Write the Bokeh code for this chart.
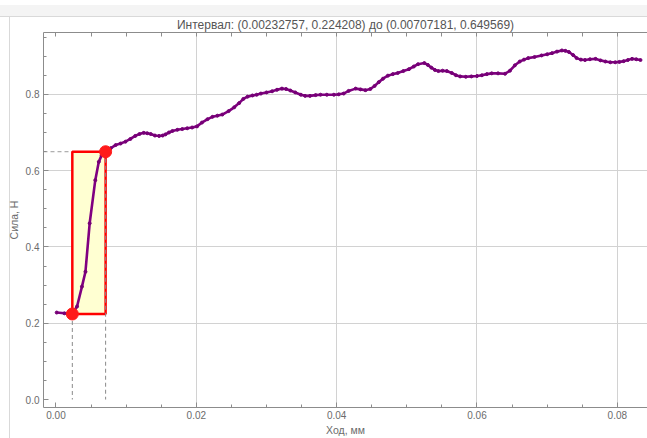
from bokeh.plotting import figure
from bokeh.models import (Range1d, FixedTicker, LinearAxis,
                          ColumnDataSource, NumeralTickFormatter)
from bokeh.embed import file_html
from bokeh.resources import INLINE

# Travel (mm) and force (N) samples of the measured curve
travel_mm = [
    0.0001, 0.0012, 0.00232757, 0.0030, 0.0037, 0.0042, 0.0048, 0.0056, 0.0061, 0.0065,
    0.00707181, 0.0078, 0.0085, 0.0092, 0.0099, 0.0106, 0.0113, 0.0119, 0.0125, 0.0130,
    0.0135, 0.0141, 0.0147, 0.0152, 0.0156, 0.0161, 0.0166, 0.0173, 0.0180, 0.0187,
    0.0194, 0.0201, 0.0208, 0.0216, 0.0223, 0.0230, 0.0237, 0.0246, 0.0254, 0.0261,
    0.0267, 0.0273, 0.0280, 0.0286, 0.0292, 0.0300, 0.0308, 0.0315, 0.0322, 0.0328,
    0.0334, 0.0341, 0.0349, 0.0355, 0.0362, 0.0370, 0.0377, 0.0386, 0.0396, 0.0403,
    0.0410, 0.0417, 0.0427, 0.0434, 0.0441, 0.0448, 0.0454, 0.0460, 0.0466, 0.0473,
    0.0480, 0.0487, 0.0495, 0.0503, 0.0510, 0.0516, 0.0525, 0.0530, 0.0535, 0.0540,
    0.0545, 0.0551, 0.0557, 0.0564, 0.0570, 0.0576, 0.0584, 0.0592, 0.0600, 0.0607,
    0.0614, 0.0621, 0.0630, 0.0640, 0.0647, 0.0654, 0.0661, 0.0667, 0.0673, 0.0682,
    0.0692, 0.0700, 0.0707, 0.0714, 0.0721, 0.0726, 0.0731, 0.0737, 0.0742, 0.0748,
    0.0754, 0.0761, 0.0769, 0.0776, 0.0783, 0.0790, 0.0797, 0.0803, 0.0809, 0.0815,
    0.0821, 0.0827, 0.0833,
]
force_n = [
    0.228, 0.226, 0.224208, 0.244, 0.296, 0.335, 0.462, 0.575, 0.623, 0.640,
    0.649569, 0.659, 0.667, 0.671, 0.676, 0.683, 0.691, 0.696, 0.699, 0.698,
    0.696, 0.692, 0.691, 0.692, 0.695, 0.700, 0.704, 0.707, 0.709, 0.711,
    0.713, 0.716, 0.726, 0.735, 0.741, 0.744, 0.747, 0.756, 0.766, 0.777,
    0.788, 0.794, 0.797, 0.799, 0.802, 0.805, 0.808, 0.812, 0.815, 0.814,
    0.810, 0.805, 0.799, 0.796, 0.796, 0.798, 0.799, 0.799, 0.799, 0.800,
    0.802, 0.809, 0.815, 0.813, 0.811, 0.814, 0.822, 0.832, 0.841, 0.849,
    0.853, 0.856, 0.861, 0.866, 0.873, 0.879, 0.882, 0.877, 0.870, 0.864,
    0.861, 0.862, 0.861, 0.856, 0.850, 0.847, 0.846, 0.847, 0.848, 0.850,
    0.853, 0.855, 0.855, 0.854, 0.862, 0.876, 0.886, 0.891, 0.895, 0.898,
    0.902, 0.905, 0.908, 0.912, 0.915, 0.914, 0.911, 0.903, 0.895, 0.891,
    0.890, 0.892, 0.893, 0.889, 0.886, 0.884, 0.884, 0.885, 0.887, 0.890,
    0.893, 0.892, 0.890,
]

# Selected interval endpoints
interval_start = (0.00232757, 0.224208)
interval_end = (0.00707181, 0.649569)

x_ticks = [0.0, 0.02, 0.04, 0.06, 0.08]
x_minor = [i * 0.005 for i in range(0, 18)]
y_ticks = [0.0, 0.2, 0.4, 0.6, 0.8]
y_minor = [i * 0.05 for i in range(0, 20)]

FONT = "Liberation Sans"
PURPLE = "#800080"
AXIS_GRAY = "#8c8c8c"
LABEL_GRAY = "#6b6b6b"

x_lo, x_hi = -0.00178, 0.0843
y_lo, y_hi = -0.0209, 0.9621

title = "Интервал: ({:.8g}, {:.6g}) до ({:.6g}, {:.6g})".format(
    interval_start[0], interval_start[1], interval_end[0], interval_end[1])

p = figure(width=647, height=438, output_backend="svg", toolbar_location=None,
           x_range=Range1d(x_lo, x_hi), y_range=Range1d(y_lo, y_hi),
           min_border_left=43, min_border_right=0, min_border_top=32,
           min_border_bottom=30, title=title,
           x_axis_label="Ход, мм", y_axis_label="Сила, Н")
p.outline_line_color = None
p.background_fill_color = "white"
# Transparent border so the cell frame drawn by CSS shows around the plot
p.border_fill_color = None
p.styles = {
    "background": (
        "linear-gradient(to bottom, #ffffff 0px, #ffffff 5px, #f4f4f4 5px, "
        "#f4f4f4 16px, #d9d9d9 16px, #d9d9d9 17px, rgba(255,255,255,0) 17px), "
        "linear-gradient(to right, #ffffff 0px, #ffffff 9px, #d9d9d9 9px, "
        "#d9d9d9 10px, #ffffff 10px)"
    )
}

p.title.align = "center"
p.title.text_font = FONT
p.title.text_font_size = "12px"
p.title.text_font_style = "normal"
p.title.text_color = "#555555"
p.title.standoff = 2
p.title.offset = 0


def style_axis(ax, ticks, minor, fmt):
    ax.ticker = FixedTicker(ticks=ticks, minor_ticks=minor)
    ax.formatter = NumeralTickFormatter(format=fmt)
    ax.axis_line_color = AXIS_GRAY
    ax.axis_line_width = 1
    ax.major_tick_line_color = AXIS_GRAY
    ax.minor_tick_line_color = AXIS_GRAY
    ax.major_tick_in = 5
    ax.major_tick_out = 0
    ax.minor_tick_in = 3
    ax.minor_tick_out = 0
    ax.major_label_text_font = FONT
    ax.major_label_text_color = LABEL_GRAY
    ax.major_label_text_font_size = "10px"
    ax.axis_label_text_font = FONT
    ax.axis_label_text_font_style = "normal"
    ax.axis_label_text_color = LABEL_GRAY
    ax.axis_label_text_font_size = "10.5px"


style_axis(p.xaxis[0], x_ticks, x_minor, "0.00")
p.xaxis[0].major_label_standoff = 3
p.xaxis[0].axis_label_standoff = 2
style_axis(p.yaxis[0], y_ticks, y_minor, "0.0")
p.yaxis[0].major_label_standoff = 4
p.yaxis[0].axis_label_standoff = 3

# Top frame edge: tick marks only, no labels
top_axis = LinearAxis(ticker=FixedTicker(ticks=[], minor_ticks=x_minor))
top_axis.axis_line_color = AXIS_GRAY
top_axis.minor_tick_line_color = AXIS_GRAY
top_axis.minor_tick_in = 4
top_axis.minor_tick_out = 0
top_axis.major_tick_out = 0
top_axis.major_label_standoff = 0
p.add_layout(top_axis, "above")

p.xgrid.ticker = FixedTicker(ticks=[t for t in x_ticks if t > 0])
p.ygrid.ticker = FixedTicker(ticks=[t for t in y_ticks if t > 0])
p.xgrid.grid_line_color = "#d2d2d2"
p.ygrid.grid_line_color = "#d2d2d2"

# Guide line from the interval end to the force axis
p.segment(x0=[x_lo], y0=[interval_end[1]], x1=[interval_end[0]], y1=[interval_end[1]],
          line_color="#9a9a9a", line_width=1, line_dash="4 3")

# Highlighted interval box
p.quad(left=[interval_start[0]], right=[interval_end[0]],
       bottom=[interval_start[1]], top=[interval_end[1]],
       fill_color="#ffffd2", line_color="#ff0000", line_width=2.5)

# Guide lines from the interval endpoints down to zero force
p.segment(x0=[interval_start[0], interval_end[0]], y0=[interval_start[1], interval_end[1]],
          x1=[interval_start[0], interval_end[0]], y1=[0.0, 0.0],
          line_color="#8a8a8a", line_width=1, line_dash="4 3")

src = ColumnDataSource(data=dict(x=travel_mm, y=force_n))
p.line("x", "y", source=src, line_color=PURPLE, line_width=2.6, line_join="round")
p.scatter("x", "y", source=src, size=3.0, color="#760076")

p.scatter(x=[interval_start[0], interval_end[0]], y=[interval_start[1], interval_end[1]],
          size=12, color="#ff1a1a")

open("out.html", "w").write(file_html(p, INLINE))
